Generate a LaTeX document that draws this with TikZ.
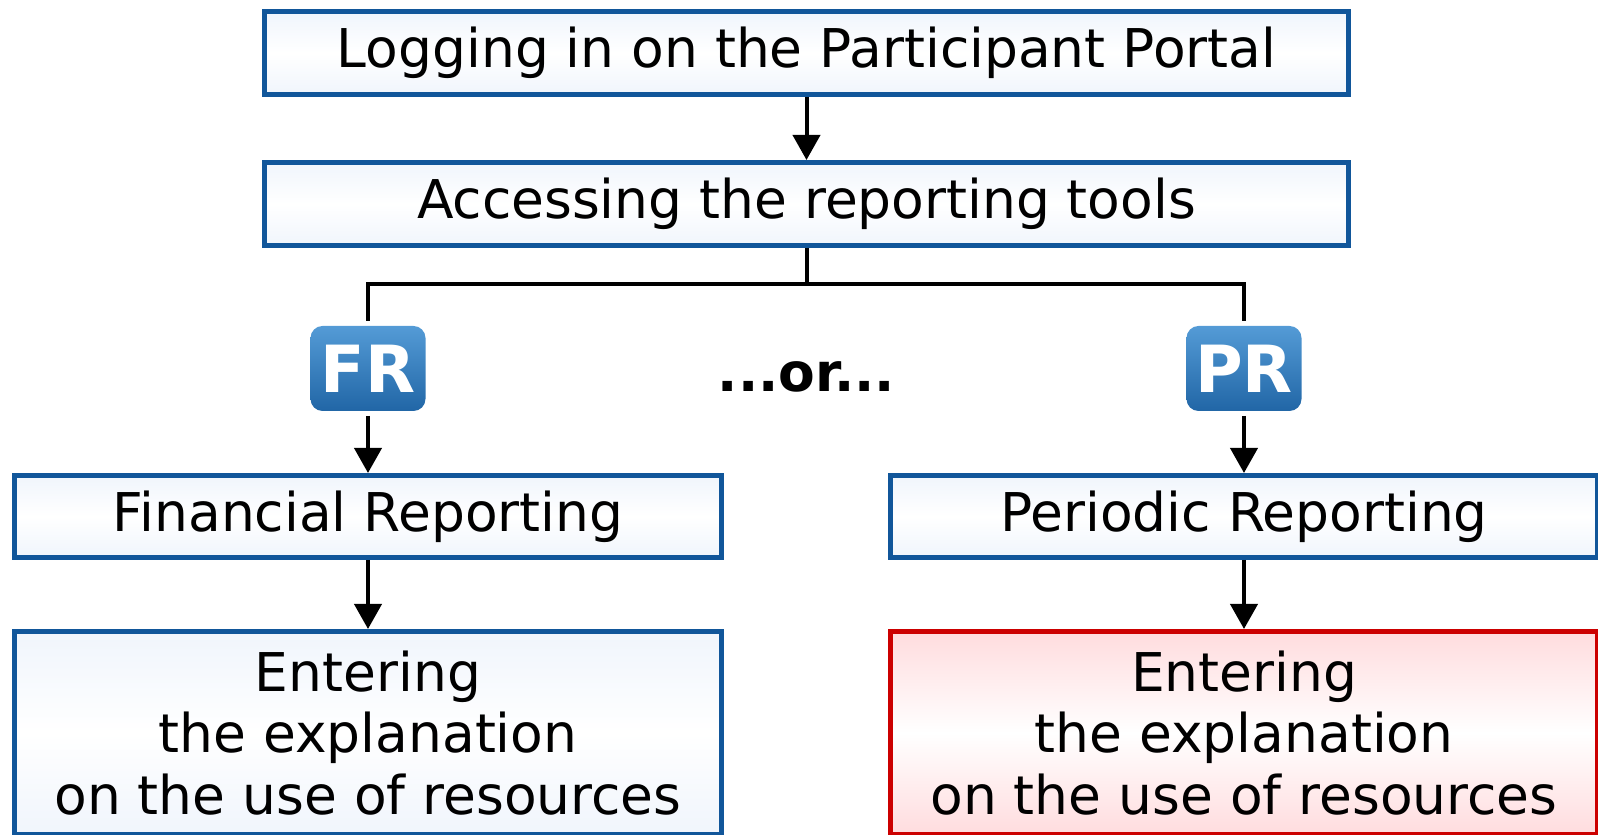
\documentclass[tikz,border=0pt]{standalone}
\usepackage{fontspec}
\setmainfont{DejaVu Sans}
\usetikzlibrary{positioning}
\usetikzlibrary{arrows.meta}
\definecolor{boxblue}{HTML}{11569A}
\definecolor{boxred}{HTML}{CC0000}
\definecolor{paleblue}{HTML}{F0F5FC}
\definecolor{palered}{HTML}{FFDCDE}
\definecolor{badgetop}{HTML}{549BD6}
\definecolor{badgebot}{HTML}{2166A6}
\tikzset{%
  stepbox/.style = {rectangle,draw=boxblue,line width=0.05cm,
        top color=paleblue,bottom color=paleblue,middle color=white,
        font=\fontsize{15.2}{17.4}\selectfont,align=center,inner sep=0pt},
  redbox/.style = {stepbox,draw=boxred,top color=palered,
        bottom color=palered,middle color=white},
  badge/.style = {rectangle,rounded corners=0.12cm,top color=badgetop,
        bottom color=badgebot,text=white,minimum width=1.15cm,
        minimum height=0.85cm,outer sep=0.05cm,inner sep=0pt,
        font=\fontsize{18.5}{18.5}\bfseries\selectfont},
  arrow/.style = {-{Triangle[width=0.27cm,length=0.25cm]},line width=0.04cm},
  link/.style = {line width=0.04cm}
}

\begin{document}
\begin{tikzpicture}[node distance=0.63cm]
        \useasboundingbox (0,0) rectangle (15.98,-8.35);
        \clip (0,0) rectangle (15.98,-8.35);
        \node[stepbox,minimum width=10.84cm,minimum height=0.83cm] (login) at (8.065,-0.53) {Logging in on the Participant Portal};
        \node[stepbox,minimum width=10.84cm,minimum height=0.83cm] (access) [below=of login] {Accessing the reporting tools};
        \node[badge] (fr) at (3.68,-3.685) {FR};
        \node[badge] (pr) at (12.44,-3.685) {PR};
        \node[font=\fontsize{15.2}{15.2}\bfseries\selectfont] (or) at (8.065,-3.77) {...or...};
        \node[stepbox,minimum width=7.07cm,minimum height=0.82cm] (finrep) at (3.68,-5.165) {Financial Reporting};
        \node[stepbox,minimum width=7.07cm,minimum height=0.82cm] (perrep) at (12.44,-5.165) {Periodic Reporting};
        \node[stepbox,minimum width=7.07cm,minimum height=2.03cm] (finexp) [below=0.69 of finrep] {Entering\\the explanation\\on the use of resources};
        \node[redbox,minimum width=7.07cm,minimum height=2.03cm] (perexp) [below=0.69 of perrep] {Entering\\the explanation\\on the use of resources};
        \coordinate (split) at (8.065,-2.84);

        \draw[arrow] (login) -- (access);
        \draw[link] (access) -- (split);
        \draw[link] (split) -| (fr);
        \draw[link] (split) -| (pr);
        \draw[arrow] (fr) -- (finrep);
        \draw[arrow] (pr) -- (perrep);
        \draw[arrow] (finrep) -- (finexp);
        \draw[arrow] (perrep) -- (perexp);

    \end{tikzpicture}
\end{document}
